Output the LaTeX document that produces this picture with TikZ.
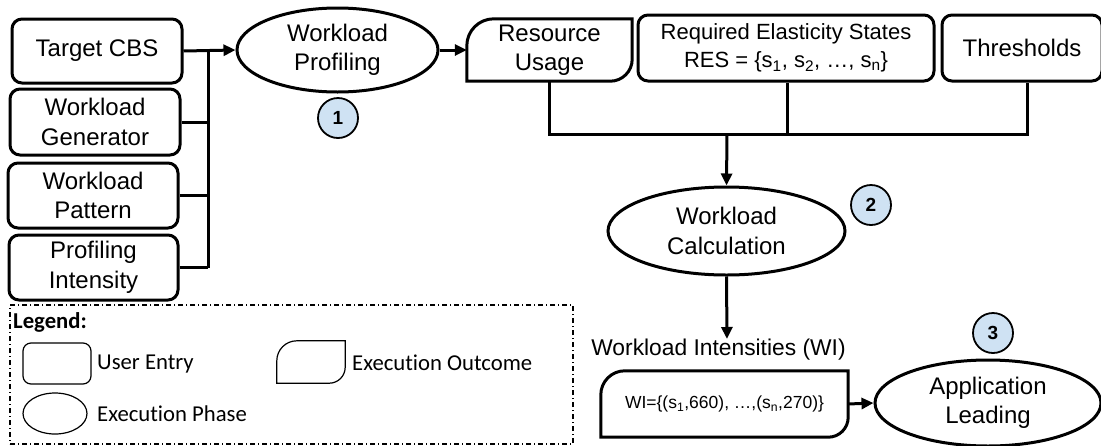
\documentclass[tikz,border=0pt]{standalone}
\usepackage{fontspec}
\setmainfont{Liberation Sans}
\newfontfamily\legendfont[Ligatures=NoCommon]{Carlito}
\usetikzlibrary{shapes.geometric,arrows.meta,calc}
\definecolor{stepblue}{HTML}{CFE2F3}
\newcommand\outcomepath[4]{% node, top-left radius, bottom-right radius, line width
  \draw[line width=#4] (#1.south west) -- ([yshift=-#2]#1.north west)
    arc[start angle=180,end angle=90,radius=#2] -- (#1.north east)
    -- ([yshift=#3]#1.south east)
    arc[start angle=0,end angle=-90,radius=#3] -- cycle;}
\begin{document}
\begin{tikzpicture}[x=1pt,y=1pt,
  mainfont/.style={font=\fontsize{24}{29.5}\selectfont},
  entry/.style={draw, line width=3pt, rounded corners=10pt, align=center, inner sep=0pt, mainfont},
  phase/.style={draw, ellipse, line width=3pt, align=center, inner sep=0pt, mainfont},
  outcome/.style={align=center, inner sep=0pt},
  stepnum/.style={circle, draw, line width=1.8pt, fill=stepblue, minimum size=40pt, inner sep=0pt, font=\fontsize{19}{19}\selectfont\bfseries},
  conn/.style={line width=3pt},
  arr/.style={conn, -{Triangle[length=12pt,width=11pt]}},
  legtext/.style={font=\legendfont\fontsize{22.7}{26}\selectfont, inner sep=0pt, anchor=west},
  legshape/.style={draw, line width=1.2pt},
]
\useasboundingbox (0,0) rectangle (1101,-445);

% user entries
\node[entry, minimum width=170pt, minimum height=64pt] (tcbs) at (97,-51) {Target CBS};
\node[entry, minimum width=170pt, minimum height=66pt] (wgen) at (95,-122) {Workload\\Generator};
\node[entry, minimum width=170pt, minimum height=65pt] (wpat) at (93,-195.5) {Workload\\Pattern};
\node[entry, minimum width=169pt, minimum height=65pt] (pint) at (93.5,-267.5) {Profiling\\Intensity};

% phase 1
\node[phase, minimum width=201pt, minimum height=84pt] (wprof) at (337.5,-50) {Workload\\Profiling};
\node[stepnum] (c1) at (338,-118) {1};

% bus
\coordinate (bustop) at (208,-51);
\coordinate (busbot) at (208,-267.5);
\draw[conn] (bustop) -- (busbot);
\draw[conn] (wgen.east) -- (wgen.east -| bustop);
\draw[conn] (wpat.east) -- (wpat.east -| bustop);
\draw[conn] (pint.east) -- (pint.east -| bustop);
\draw[arr] (tcbs.east) -- (wprof.west);

% outcomes and entries on top
\node[outcome, mainfont, minimum width=165pt, minimum height=62pt] (ru) at (549.5,-50) {Resource\\Usage};
\outcomepath{ru}{27pt}{22pt}{3pt}
\draw[arr] (wprof.east) -- (ru.west);

\node[entry, font=\fontsize{22}{28}\selectfont, minimum width=296pt, minimum height=66pt] (res) at (786,-48)
  {Required Elasticity States\\RES = \{s\textsubscript{1}, s\textsubscript{2}, \dots, s\textsubscript{n}\}};
\node[entry, minimum width=160pt, minimum height=66pt] (thr) at (1022,-48) {Thresholds};

% merge
\coordinate (mleft) at (549.5,-134);
\coordinate (mright) at (1027,-134);
\coordinate (mmid) at (727,-134);
\draw[conn] (ru.south) -- (mleft) -- (mright) -- (mright |- thr.south);
\draw[conn] (res.south -| 787,0) -- (787,-134);

% phase 2
\node[phase, minimum width=237pt, minimum height=88pt] (wcalc) at (726.5,-231) {Workload\\Calculation};
\node[stepnum] (c2) at (871,-205) {2};
\draw[arr] (mmid) -- (wcalc.north);

% workload intensities
\node[anchor=base, inner sep=0pt, font=\fontsize{22.8}{27}\selectfont] (witext) at (718.5,-355) {Workload Intensities (WI)};
\coordinate (wiend) at (727,-339);
\draw[arr] (wcalc.south) -- (wiend);

\node[outcome, font=\fontsize{17.5}{21}\selectfont, minimum width=247pt, minimum height=66pt] (wibox) at (724.5,-404)
  {WI=\{(s\textsubscript{1},660), \dots,(s\textsubscript{n},270)\}};
\outcomepath{wibox}{24pt}{20pt}{3pt}

% phase 3
\node[phase, minimum width=226pt, minimum height=86pt] (appl) at (988,-403) {Application\\Leading};
\node[stepnum] (c3) at (993,-333) {3};
\draw[arr] (wibox.east) -- (appl.west);

% legend
\node[draw, line width=1.2pt, dash pattern=on 5pt off 3pt on 1pt off 3pt, minimum width=563pt, minimum height=139pt, inner sep=0pt] (legend) at (291.5,-374.5) {};
\node[legtext, anchor=base west, font=\legendfont\bfseries\fontsize{22.7}{26}\selectfont] (legtitle) at (13,-328) {Legend:};
\node[legshape, rounded corners=8pt, minimum width=68pt, minimum height=41pt, inner sep=0pt] (lgentry) at (57,-363.5) {};
\node[legtext] (lgentrytext) at (97,-364) {User Entry};
\node[outcome, minimum width=68pt, minimum height=42pt] (lgout) at (311,-362) {};
\outcomepath{lgout}{20pt}{16pt}{1.2pt}
\node[legtext] (lgouttext) at (352,-363) {Execution Outcome};
\node[legshape, ellipse, minimum width=64pt, minimum height=41pt, inner sep=0pt] (lgphase) at (55,-413.5) {};
\node[legtext] (lgphasetext) at (97,-414) {Execution Phase};
\end{tikzpicture}
\end{document}
